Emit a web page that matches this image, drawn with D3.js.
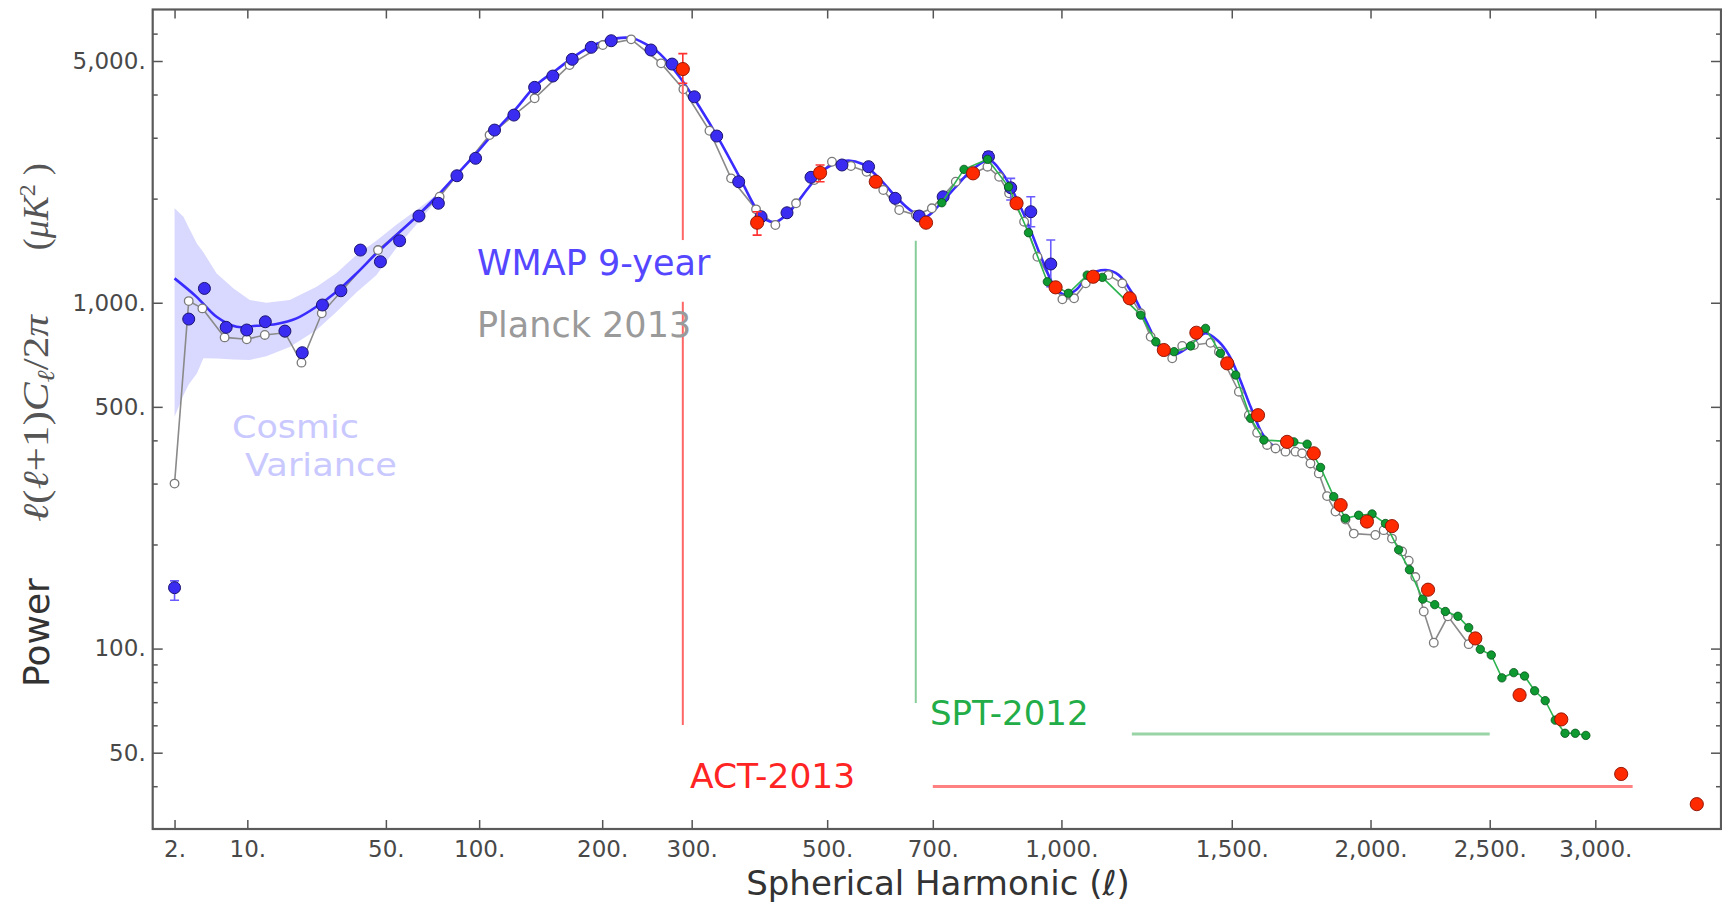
<!DOCTYPE html>
<html><head><meta charset="utf-8">
<script src="https://cdn.jsdelivr.net/npm/d3@7"></script>
<style>
body{margin:0;background:#fff}
svg{display:block}
text{font-family:"DejaVu Sans",sans-serif}
</style>
</head><body>
<svg id="chart" width="1722" height="905"></svg>
<script>
// ---------------- data ----------------
const xTickValues = [2,10,50,100,200,300,500,700,1000,1500,2000,2500,3000];
const yTickValues = [50,100,500,1000,5000];
const yMinorTicks = [40,60,70,80,90,200,300,400,2000,3000,4000,6000];

// best-fit theory curve
const theoryL = [2,3.66,5.71,8.34,11.57,15.46,20.05,25.36,31.44,38.34,46.05,54.63,64.1,74.5,85.85,98.17,111.5,125.9,141.3,157.8,175.4,194.1,214,231.5,253.5,261.2,284.9,309.8,336,363.5,387.4,402.2,418,443.1,470,497.9,532.7,562.4,593.6,625.5,658.4,685.6,713.4,749,784.5,823.4,854.3,886,918.6,951.3,985.4,1011.5,1037.9,1073,1118.5,1155,1193,1241.8,1271.5,1311.4,1362.8,1415,1458,1490.5,1523.5,1562.8,1602,1636.5,1660];
const theoryV = [1176,1040,911,852,858,868,901,974,1076,1216,1389,1570,1773,2025,2340,2704,3157,3648,4262,4708,5202,5598,5814,5814,5440,5262,4503,3687,2954,2313,1875,1735,1715,1875,2164,2447,2574,2518,2289,2025,1833,1773,1916,2164,2419,2586,2367,2025,1659,1329,1100,1053,1088,1202,1243,1202,1065,852,746,706,746,816,771,706,611,500,419,388,384];

// cosmic variance band
const cvL  = [2,2.6,3,3.7,4.3,5.7,7.9,10.4,13.4,18.4,25.4,31.4,38.3,46,54.6,64,75];
const cvHi = [1875,1773,1650,1480,1400,1216,1100,1018,1000,1018,1112,1216,1374,1510,1680,1850,2060];
const cvLo = [468,540,580,625,691,690,685,683,700,745,834,940,1070,1200,1440,1680,1990];

// Planck 2013
const planckL = [2,3,4.2,6.7,9.9,13.1,17.3,21.3,26.9,46.7,76.3,106.9,140,169.4,200.6,229.7,263.1,289.7,322.8,351.9,387.4,416.3,448.6,478.3,508.2,541.5,569.9,601.2,632,665.3,698.1,749,819.6,846.7,870.2,906.3,939.1,1002.5,1033,1064,1125.6,1164.8,1217.5,1246.8,1311.4,1342,1378.5,1431,1458,1523.5,1557,1585,1619,1648.5,1683.4,1719,1742.7,1773,1803.5,1834,1865.6,1903.5,1935,2019,2052,2085,2126,2153,2180,2215,2257,2317,2407];
const planckV = [300,1011,963,794,784,807,819,671,932,1420,2025,3054,3900,4867,5561,5775,4922,4140,3143,2289,1862,1678,1939,2263,2557,2485,2392,2118,1854,1793,1875,2238,2474,2313,2072,1715,1358,1023,1030,1138,1202,1138,932,797,691,750,755,766,722,553,473,421,388,379,371,371,367,343,321,276,249,236,215,213,220,208,191,179.5,161,128,104,124,103];

// WMAP 9-year
const wmapL = [2,3,4.4,6.9,9.9,13.2,17.3,21.5,27.1,32.9,39.8,47.7,56.1,65.4,75.6,86.2,97.7,110.3,124.1,140,154.9,171.8,189.4,209,251.5,276,303.4,332.4,362.5,394.8,434.3,472.9,525.6,573.6,624.2,672,721.8,822,874,922.7,972.7];
const wmapV = [150,897,1100,849,834,881,828,717,985,1083,1420,1314,1511,1781,1939,2329,2616,3157,3488,4196,4523,5056,5477,5722,5380,4899,3940,3034,2238,1773,1820,2305,2502,2474,2004,1781,2025,2644,2150,1833,1294];
const wmapErrL  = [2,822,874,922.7,972.7];
const wmapErrLo = [138,2560,1982,1659,1112];
const wmapErrHi = [157,2731,2289,2025,1518];

// ACT-2013
const actL = [289,389,488,587,686,787,888,985,1084,1186,1286,1386,1485,1588,1689,1785,1885,1986,2085,2233,2436,2636,2833,3131,3533];
const actV = [4739,1704,2376,2238,1704,2367,1939,1108,1189,1030,730,819,668,473,396,367,260,233,226,148,107,73.4,62.4,43.4,35.5];
const actErrL  = [289,389,488];
const actErrLo = [4310,1569,2238];
const actErrHi = [5250,1832,2502];

// SPT-2012
const sptL = [719,767,820,869,917,964,1018,1068,1109,1218,1262,1317,1368,1415,1463,1513,1563,1608,1713,1761,1810,1859,1903,1954,2006,2059,2112,2156,2211,2261,2306,2360,2407,2458,2507,2555,2609,2659,2706,2756,2804,2851,2901,2953];
const sptV = [1946,2430,2598,2164,1594,1150,1065,1202,1184,921,771,722,750,843,714,618,463,401,396,390,334,275,238,243,245,230,193,169,139,134,128,124,115,99.5,95.8,82.3,85.2,83.3,75.5,70.7,62.1,56.9,56.9,56.1];

// survey range markers (data coordinates)
const actMarkL = 289;
const actMarkSegments = [[4310,1518],[1007,60.1]];
const actRangeL = [700,3190];
const actRangeV = 39.9;
const sptMarkL = 665;
const sptMarkV = [1510,69.6];
const sptRangeL = [1192,2500];
const sptRangeV = 56.6;

// ---------------- chart ----------------
const W = 1722, H = 905;
const frame = {left:152.7, right:1721, top:9.5, bottom:829};
const svg = d3.select("#chart");

const x = d3.scalePow().exponent(0.4).domain([0,3000]).range([94,1595.3]);
const y = d3.scaleLog().domain([50,5000]).range([752.7,61]);

svg.append("defs").append("clipPath").attr("id","clip")
  .append("rect").attr("x",frame.left).attr("y",frame.top)
  .attr("width",frame.right-frame.left).attr("height",frame.bottom-frame.top);

const g = svg.append("g").attr("clip-path","url(#clip)");
const zip = (L,V) => L.map((l,i)=>({l, v:V[i]}));

// cosmic variance band
const cv = cvL.map((l,i)=>({l, hi:cvHi[i], lo:cvLo[i]}));
g.append("path").datum(cv)
  .attr("d", d3.area().x(d=>x(d.l)).y0(d=>y(d.lo)).y1(d=>y(d.hi)))
  .attr("fill","#d9d9ff").attr("stroke","none");

// annotation range lines
const annot = svg.append("g");
actMarkSegments.forEach(s=>{
  annot.append("line").attr("x1",x(actMarkL)).attr("x2",x(actMarkL))
    .attr("y1",y(s[0])).attr("y2",y(s[1]))
    .attr("stroke","#ff6666").attr("stroke-width",2);
});
annot.append("line").attr("x1",x(actRangeL[0])).attr("x2",x(actRangeL[1]))
  .attr("y1",y(actRangeV)).attr("y2",y(actRangeV))
  .attr("stroke","#ff8080").attr("stroke-width",3);
annot.append("line").attr("x1",x(sptMarkL)).attr("x2",x(sptMarkL))
  .attr("y1",y(sptMarkV[0])).attr("y2",y(sptMarkV[1]))
  .attr("stroke","#88cc99").attr("stroke-width",2);
annot.append("line").attr("x1",x(sptRangeL[0])).attr("x2",x(sptRangeL[1]))
  .attr("y1",y(sptRangeV)).attr("y2",y(sptRangeV))
  .attr("stroke","#99d4a6").attr("stroke-width",3);

const line = d3.line().x(d=>x(d.l)).y(d=>y(d.v));

// Planck line
const planck = zip(planckL, planckV);
g.append("path").datum(planck).attr("d",line)
  .attr("fill","none").attr("stroke","#8a8a8a").attr("stroke-width",1.6);

// theory curve
g.append("path").datum(zip(theoryL,theoryV))
  .attr("d", d3.line().x(d=>x(d.l)).y(d=>y(d.v)).curve(d3.curveCatmullRom))
  .attr("fill","none").attr("stroke","#3a2cff").attr("stroke-width",2.6);

// Planck points
g.selectAll("circle.planck").data(planck).join("circle").attr("class","planck")
  .attr("cx",d=>x(d.l)).attr("cy",d=>y(d.v)).attr("r",4.3)
  .attr("fill","#fff").attr("stroke","#7a7a7a").attr("stroke-width",1.3);

// error bars helper
function errBars(L,Lo,Hi,color){
  L.forEach((l,i)=>{
    const cx = x(l);
    g.append("line").attr("x1",cx).attr("x2",cx).attr("y1",y(Lo[i])).attr("y2",y(Hi[i]))
      .attr("stroke",color).attr("stroke-width",1.6);
    [Lo[i],Hi[i]].forEach(v=>{
      g.append("line").attr("x1",cx-4.5).attr("x2",cx+4.5).attr("y1",y(v)).attr("y2",y(v))
        .attr("stroke",color).attr("stroke-width",1.6);
    });
  });
}

// WMAP
errBars(wmapErrL,wmapErrLo,wmapErrHi,"#6a5cff");
g.selectAll("circle.wmap").data(zip(wmapL,wmapV)).join("circle").attr("class","wmap")
  .attr("cx",d=>x(d.l)).attr("cy",d=>y(d.v)).attr("r",6)
  .attr("fill","#3b2cf2").attr("stroke","#1c1470").attr("stroke-width",1);

// SPT
const spt = zip(sptL,sptV);
g.append("path").datum(spt).attr("d",line)
  .attr("fill","none").attr("stroke","#2db34f").attr("stroke-width",1.6);
g.selectAll("circle.spt").data(spt).join("circle").attr("class","spt")
  .attr("cx",d=>x(d.l)).attr("cy",d=>y(d.v)).attr("r",4.2)
  .attr("fill","#0e9a30").attr("stroke","#06501a").attr("stroke-width",0.8);

// ACT
errBars(actErrL,actErrLo,actErrHi,"#ff3030");
g.selectAll("circle.act").data(zip(actL,actV)).join("circle").attr("class","act")
  .attr("cx",d=>x(d.l)).attr("cy",d=>y(d.v)).attr("r",6.6)
  .attr("fill","#ff2a00").attr("stroke","#8a1000").attr("stroke-width",0.9);

// ---------------- axes ----------------
const fmt = v => d3.format(",")(v) + ".";
const axB = svg.append("g").attr("transform",`translate(0,${frame.bottom})`)
  .call(d3.axisBottom(x).tickValues(xTickValues).tickFormat(fmt).tickSize(-9).tickSizeOuter(0).tickPadding(12));
const axT = svg.append("g").attr("transform",`translate(0,${frame.top})`)
  .call(d3.axisTop(x).tickValues(xTickValues).tickFormat("").tickSize(-9).tickSizeOuter(0));
const axL = svg.append("g").attr("transform",`translate(${frame.left},0)`)
  .call(d3.axisLeft(y).tickValues(yTickValues).tickFormat(fmt).tickSize(-10).tickSizeOuter(0).tickPadding(7));
const axLm = svg.append("g").attr("transform",`translate(${frame.left},0)`)
  .call(d3.axisLeft(y).tickValues(yMinorTicks).tickFormat("").tickSize(-5).tickSizeOuter(0));
const axR = svg.append("g").attr("transform",`translate(${frame.right},0)`)
  .call(d3.axisRight(y).tickValues(yTickValues).tickFormat("").tickSize(-10).tickSizeOuter(0));
const axRm = svg.append("g").attr("transform",`translate(${frame.right},0)`)
  .call(d3.axisRight(y).tickValues(yMinorTicks).tickFormat("").tickSize(-5).tickSizeOuter(0));
[axB,axT,axL,axLm,axR,axRm].forEach(a=>{
  a.select(".domain").remove();
  a.selectAll(".tick line").attr("stroke","#555").attr("stroke-width",1.5);
  a.selectAll(".tick text").attr("fill","#484848").style("font-family","'DejaVu Sans'").style("font-size","23px");
});
axLm.selectAll(".tick").filter(d=>y(d)<frame.top+2||y(d)>frame.bottom-2).remove();
axRm.selectAll(".tick").filter(d=>y(d)<frame.top+2||y(d)>frame.bottom-2).remove();

svg.append("rect").attr("x",frame.left).attr("y",frame.top)
  .attr("width",frame.right-frame.left).attr("height",frame.bottom-frame.top)
  .attr("fill","none").attr("stroke","#5a5a5a").attr("stroke-width",2.2);

// ---------------- labels ----------------
const lab = (t,px,py,col,size) => svg.append("text").attr("x",px).attr("y",py)
  .attr("fill",col).style("font-size",size+"px").text(t);
lab("WMAP 9-year",477,275,"#5546ff",35);
lab("Planck 2013",477,337,"#9a9a9a",35);
svg.append("text").attr("x",232).attr("y",438).attr("fill","#c9c9ff")
  .style("font-size","32px").attr("textLength",127).attr("lengthAdjust","spacingAndGlyphs").text("Cosmic");
svg.append("text").attr("x",245).attr("y",476).attr("fill","#c9c9ff")
  .style("font-size","32px").attr("textLength",152).attr("lengthAdjust","spacingAndGlyphs").text("Variance");
lab("SPT-2012",930,725,"#22ad48",34);
lab("ACT-2013",690,788,"#ff2424",34.5);

// x title
const xt = svg.append("text").attr("x",938).attr("y",895).attr("text-anchor","middle")
  .attr("fill","#333").style("font-size","34px");
xt.append("tspan").text("Spherical Harmonic (");
xt.append("tspan").style("font-style","italic").text("ℓ");
xt.append("tspan").text(")");

// y titles
svg.append("text").attr("transform","translate(48.5,632.5) rotate(-90)")
  .attr("text-anchor","middle").attr("fill","#333").style("font-size","36px").text("Power");

const mt = svg.append("text").attr("transform","translate(47.5,418.5) rotate(-90)")
  .attr("text-anchor","middle").attr("fill","#555")
  .style("font-family","'Liberation Serif','DejaVu Serif',serif").style("font-size","36px")
  .attr("textLength",207).attr("lengthAdjust","spacingAndGlyphs");
mt.append("tspan").style("font-style","italic").text("ℓ");
mt.append("tspan").text("(");
mt.append("tspan").style("font-style","italic").text("ℓ");
mt.append("tspan").text("+1)");
mt.append("tspan").style("font-style","italic").text("C");
mt.append("tspan").style("font-style","italic").style("font-size","24px").attr("dy",6).text("ℓ");
mt.append("tspan").attr("dy",-6).text("/2");
mt.append("tspan").style("font-style","italic").text("π");

const ut = svg.append("text").attr("transform","translate(47.5,206.7) rotate(-90)")
  .attr("text-anchor","middle").attr("fill","#555")
  .style("font-family","'Liberation Serif','DejaVu Serif',serif").style("font-size","36px");
ut.append("tspan").text("(");
ut.append("tspan").style("font-style","italic").text("μK");
ut.append("tspan").style("font-size","24px").attr("dy",-13).text("2");
ut.append("tspan").attr("dy",13).text(" )");
</script>
</body></html>
